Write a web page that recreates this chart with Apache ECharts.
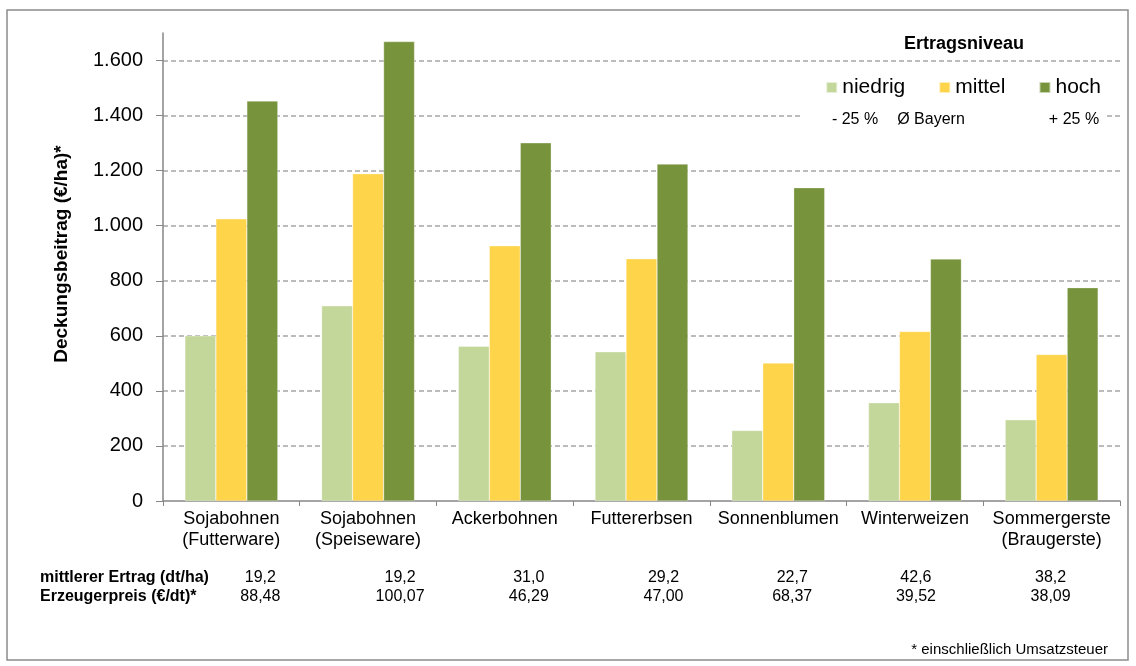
<!DOCTYPE html>
<html><head><meta charset="utf-8">
<script src="https://cdn.jsdelivr.net/npm/echarts@6/dist/echarts.min.js"></script>
<style>html,body{margin:0;padding:0;background:#fff}#c{width:1136px;height:666px}</style>
</head><body><div id="c"></div>
<script>
const categories = ['Sojabohnen\n(Futterware)','Sojabohnen\n(Speiseware)','Ackerbohnen','Futtererbsen','Sonnenblumen','Winterweizen','Sommergerste\n(Braugerste)'];
const niedrig = [600, 709, 562, 542, 256, 357, 295];
const mittel = [1025, 1189, 927, 880, 501, 616, 532];
const hoch = [1453, 1669, 1301, 1224, 1138, 879, 775];
const seriesNames = ['niedrig','mittel','hoch'];
const seriesSub = ['- 25 %','Ø Bayern','+ 25 %'];
const ertrag = ['19,2','19,2','31,0','29,2','22,7','42,6','38,2'];
const preis = ['88,48','100,07','46,29','47,00','68,37','39,52','38,09'];
const yTicks = [0,200,400,600,800,1000,1200,1400,1600];

const colors = ['#C4D79B','#FED44A','#77933C'];
const font = 'Liberation Sans, Arial, sans-serif';
const narrow = 'Liberation Sans Narrow, Liberation Sans, Arial, sans-serif';
const chart = echarts.init(document.getElementById('c'));
const fmt = v => String(v).replace(/\B(?=(\d{3})+(?!\d))/g, '.');
const dataSets = [niedrig, mittel, hoch];

chart.setOption({
  animation: false,
  color: colors,
  grid: {left: 163, right: 16, top: 33, bottom: 165},
  legend: {
    data: seriesNames, right: 35, top: 77, itemWidth: 11, itemHeight: 11, itemGap: 33,
    icon: 'rect', z: 10, padding: 0,
    textStyle: {fontFamily: font, fontSize: 21, color: '#000'}
  },
  xAxis: {
    type: 'category', data: categories,
    axisLine: {lineStyle: {color: '#868686', width: 1.5}},
    axisTick: {show: true, length: 5, lineStyle: {color: '#868686'}},
    axisLabel: {fontFamily: font, fontSize: 18, color: '#000', lineHeight: 21, margin: 8, interval: 0}
  },
  yAxis: {
    type: 'value', min: 0, max: 1700, interval: 200,
    axisLine: {show: true, lineStyle: {color: '#868686', width: 1.5}},
    axisTick: {show: true, length: 7, inside: false, customValues: yTicks, lineStyle: {color: '#868686'}},
    axisLabel: {fontFamily: font, fontSize: 20, color: '#000', margin: 20, customValues: yTicks,
      formatter: v => fmt(v)},
    splitLine: {show: true, showMinLine: false, lineStyle: {color: '#A6A6A6', type: [5,3], width: 1.5}}
  },
  series: seriesNames.map((n, i) => ({
    name: n, type: 'bar', data: dataSets[i], barGap: '0%', barCategoryGap: '32%',
    itemStyle: {color: colors[i], borderColor: 'rgba(255,255,255,0.6)', borderWidth: 0.5}
  })),
  graphic: []
});

// Layout extras, positioned through the category axis
const rowOffsets = [29, 32, 24, 22, 14, 1, -1];
const g = [
  {type: 'rect', shape: {x: 7, y: 10, width: 1121, height: 650}, style: {fill: 'none', stroke: '#8C8C8C', lineWidth: 1.5}, z: 0, silent: true},
  {type: 'rect', shape: {x: 800, y: 64, width: 305, height: 66}, style: {fill: '#fff'}, z: 5, silent: true},
  {type: 'text', x: 964, y: 44, style: {text: 'Ertragsniveau', font: 'bold 18px ' + font, fill: '#000', textAlign: 'center', textVerticalAlign: 'middle'}, z: 6},
  {type: 'text', x: 62, y: 254, rotation: Math.PI / 2, style: {text: 'Deckungsbeitrag (€/ha)*', font: 'bold 19px ' + font, fill: '#000', textAlign: 'center', textVerticalAlign: 'middle'}, z: 6},
  {type: 'text', x: 1108, y: 650, style: {text: '* einschließlich Umsatzsteuer', font: '15px ' + font, fill: '#000', textAlign: 'right', textVerticalAlign: 'middle'}, z: 6},
  {type: 'text', x: 40, y: 578, style: {text: 'mittlerer Ertrag (dt/ha)', font: 'bold 16px ' + narrow, fill: '#000', textVerticalAlign: 'middle'}, z: 6},
  {type: 'text', x: 40, y: 597, style: {text: 'Erzeugerpreis (€/dt)*', font: 'bold 16px ' + narrow, fill: '#000', textVerticalAlign: 'middle'}, z: 6}
];
const subX = [855, 931, 1074];
seriesSub.forEach((t, i) => g.push({type: 'text', x: subX[i], y: 120, style: {text: t, font: '16px ' + font, fill: '#000', textAlign: 'center', textVerticalAlign: 'middle'}, z: 6}));
categories.forEach((c, i) => {
  const cx = chart.convertToPixel({xAxisIndex: 0}, i) + rowOffsets[i];
  g.push({type: 'text', x: cx, y: 578, style: {text: ertrag[i], font: '16px ' + narrow, fill: '#000', textAlign: 'center', textVerticalAlign: 'middle'}, z: 6});
  g.push({type: 'text', x: cx, y: 597, style: {text: preis[i], font: '16px ' + narrow, fill: '#000', textAlign: 'center', textVerticalAlign: 'middle'}, z: 6});
});
chart.setOption({graphic: g});
</script></body></html>
